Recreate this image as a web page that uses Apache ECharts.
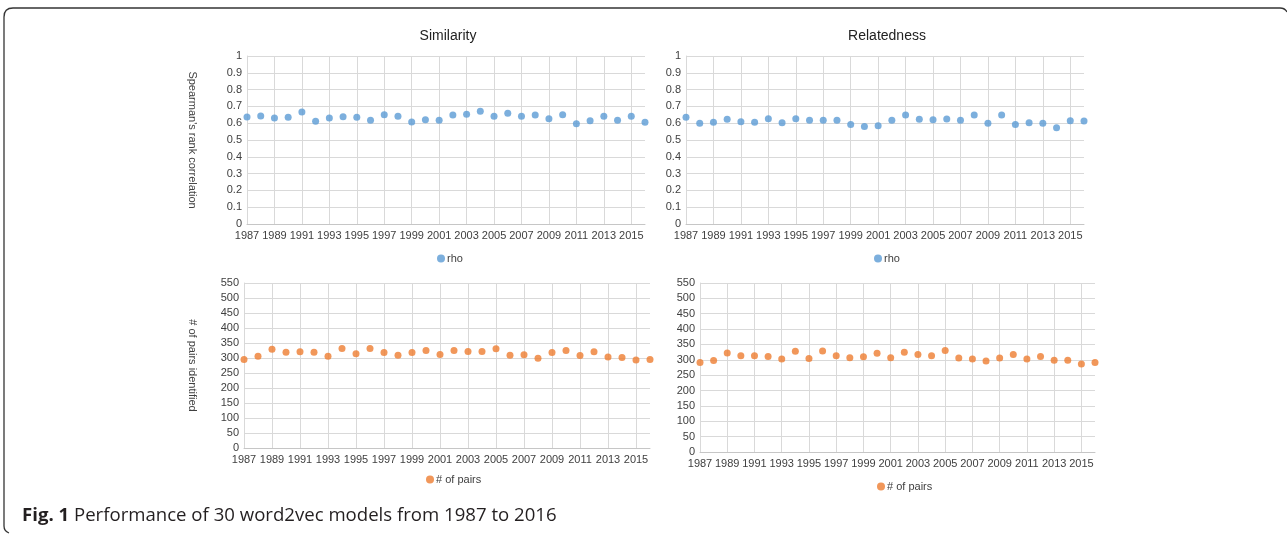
<!DOCTYPE html>
<html>
<head>
<meta charset="utf-8">
<script src="https://cdn.jsdelivr.net/npm/echarts@6/dist/echarts.min.js"></script>
<style>
  html, body { margin: 0; padding: 0; background: #fff; }
  #main { width: 1287px; height: 536px; }
</style>
</head>
<body>
<div id="main"></div>
<script>
// years on the x axis
var years = [];
for (var y = 1987; y <= 2016; y++) years.push(String(y));

// Spearman's rho, similarity
var simRho = [0.637, 0.643, 0.631, 0.635, 0.667, 0.611, 0.631, 0.639, 0.635, 0.617,
              0.651, 0.641, 0.607, 0.621, 0.617, 0.649, 0.653, 0.671, 0.641, 0.659,
              0.641, 0.649, 0.627, 0.651, 0.597, 0.615, 0.641, 0.617, 0.641, 0.605];
// Spearman's rho, relatedness
var relRho = [0.635, 0.599, 0.605, 0.623, 0.609, 0.605, 0.627, 0.603, 0.627, 0.617,
              0.617, 0.617, 0.593, 0.581, 0.585, 0.617, 0.649, 0.623, 0.621, 0.625,
              0.617, 0.649, 0.599, 0.649, 0.593, 0.603, 0.599, 0.573, 0.615, 0.613];
// # of pairs identified, similarity
var simPairs = [295, 306, 329, 319, 321, 319, 306, 332, 314, 332,
                318, 309, 318, 325, 312, 325, 322, 322, 331, 309,
                311, 299, 318, 325, 308, 321, 303, 302, 293, 295];
// # of pairs identified, relatedness
var relPairs = [291, 298, 322, 313, 313, 311, 303, 328, 304, 329,
                313, 307, 310, 321, 307, 325, 317, 313, 330, 306,
                303, 296, 306, 317, 303, 311, 299, 299, 286, 291];

var blue = '#5b9bd5';
var orange = '#ed7d31';
var gridColor = '#d9d9d9';
var textColor = '#404040';
var font = 'Liberation Sans';

var myChart = echarts.init(document.getElementById('main'));

function xAxisFor(idx) {
    return {
        type: 'category',
        gridIndex: idx,
        data: years,
        boundaryGap: false,
        axisLine: { lineStyle: { color: '#c6c6c6' } },
        axisTick: { show: false },
        axisLabel: { interval: 1, color: textColor, fontFamily: font, fontSize: 11, margin: 6 },
        splitLine: { show: true, interval: 1, lineStyle: { color: gridColor } }
    };
}

function yAxisFor(idx, max, interval, name) {
    return {
        type: 'value',
        gridIndex: idx,
        min: 0,
        max: max,
        interval: interval,
        name: name || '',
        nameLocation: 'middle',
        nameRotate: -90,
        nameGap: idx === 0 ? 49 : 46,
        nameTextStyle: { color: textColor, fontFamily: font, fontSize: 11 },
        axisLine: { show: true, lineStyle: { color: gridColor } },
        axisTick: { show: false },
        axisLabel: { color: textColor, fontFamily: font, fontSize: 11, margin: 5 },
        splitLine: { show: true, lineStyle: { color: gridColor } }
    };
}

function legendFor(name, left, top) {
    return {
        data: [name],
        left: left,
        top: top,
        icon: 'circle',
        itemWidth: 8,
        itemHeight: 8,
        itemGap: 2,
        textStyle: { color: textColor, fontFamily: font, fontSize: 11, padding: [0, 0, 0, -3] }
    };
}

var frameStyle = { fill: null, stroke: '#333', lineWidth: 1.3 };

option = {
    animation: false,
    title: [
        { text: 'Similarity', left: 443, top: 24, textAlign: 'center',
          textStyle: { fontFamily: font, fontSize: 14, fontWeight: 'normal', color: '#222' } },
        { text: 'Relatedness', left: 882, top: 24, textAlign: 'center',
          textStyle: { fontFamily: font, fontSize: 14, fontWeight: 'normal', color: '#222' } }
    ],
    grid: [
        { left: 247, right: 642, top: 56, height: 168 },
        { left: 686, right: 203, top: 56, height: 168 },
        { left: 244, right: 637, top: 283, height: 165 },
        { left: 700, right: 192, top: 283, height: 169 }
    ],
    xAxis: [xAxisFor(0), xAxisFor(1), xAxisFor(2), xAxisFor(3)],
    yAxis: [
        yAxisFor(0, 1, 0.1, "Spearman's rank correlation"),
        yAxisFor(1, 1, 0.1),
        yAxisFor(2, 550, 50, '# of pairs identified'),
        yAxisFor(3, 550, 50)
    ],
    legend: [
        legendFor('rho', 432, 248),
        legendFor('rho', 869, 248),
        legendFor('# of pairs', 421, 469),
        legendFor('# of pairs', 872, 476)
    ],
    series: [
        { name: 'rho', type: 'scatter', xAxisIndex: 0, yAxisIndex: 0, data: simRho,
          symbolSize: 7, itemStyle: { color: blue } },
        { name: 'rho', type: 'scatter', xAxisIndex: 1, yAxisIndex: 1, data: relRho,
          symbolSize: 7, itemStyle: { color: blue } },
        { name: '# of pairs', type: 'scatter', xAxisIndex: 2, yAxisIndex: 2, data: simPairs,
          symbolSize: 7, itemStyle: { color: orange } },
        { name: '# of pairs', type: 'scatter', xAxisIndex: 3, yAxisIndex: 3, data: relPairs,
          symbolSize: 7, itemStyle: { color: orange } }
    ],
    graphic: [
        // figure frame: top + left edge with rounded ends
        { type: 'line', shape: { x1: 4, y1: 17, x2: 4, y2: 526 }, style: frameStyle },
        { type: 'line', shape: { x1: 13, y1: 8, x2: 1280, y2: 8 }, style: frameStyle },
        { type: 'bezierCurve', shape: { x1: 4, y1: 17, cpx1: 4, cpy1: 8, x2: 13, y2: 8 }, style: frameStyle },
        { type: 'bezierCurve', shape: { x1: 1280, y1: 8, cpx1: 1285, cpy1: 8, x2: 1287, y2: 12 }, style: frameStyle },
        { type: 'bezierCurve', shape: { x1: 4, y1: 526, cpx1: 4, cpy1: 531, x2: 9, y2: 533 }, style: frameStyle },
        {
            type: 'text',
            left: 22,
            top: 506,
            style: {
                text: '{b|Fig. 1} Performance of 30 word2vec models from 1987 to 2016',
                fontFamily: 'Open Sans',
                fontSize: 18.6,
                fill: '#231f20',
                rich: { b: { fontFamily: 'Open Sans', fontSize: 18.6, fontWeight: 'bold', fill: '#231f20' } }
            }
        }
    ]
};

myChart.setOption(option);
</script>
</body>
</html>
